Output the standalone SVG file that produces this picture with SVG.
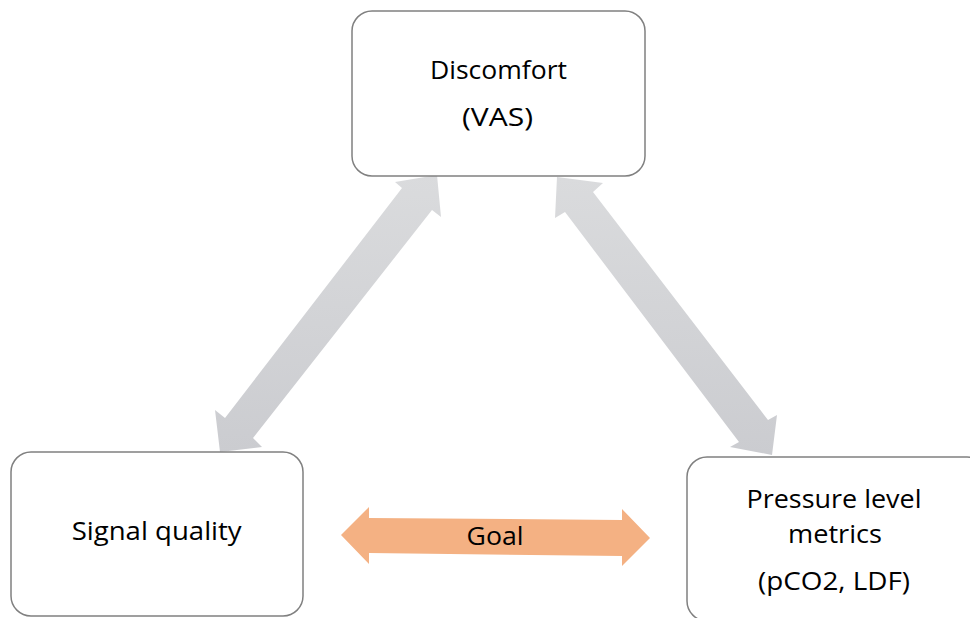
<svg xmlns="http://www.w3.org/2000/svg" width="970" height="618" viewBox="0 0 970 618">
<defs>
<style>
.box{fill:#ffffff;stroke:#808080;stroke-width:1.5}
.lbl{font-family:"Open Sans","Liberation Sans",sans-serif;font-size:26px;fill:#000000;text-anchor:middle}
.gray{fill:url(#g1)}
.goal{fill:#F4B183}
</style>
<linearGradient id="g1" x1="0" y1="0" x2="0" y2="1">
<stop offset="0" stop-color="#dadbdd"/>
<stop offset="1" stop-color="#cbccd0"/>
</linearGradient>
</defs>
<rect width="970" height="618" fill="#ffffff"/>
<g id="connectors">
<polygon class="gray" points="437,175 441,217 432,210 253,438 262,447 220,452 215,410 225,418 402,188 395,182"/>
<polygon class="gray" points="557,177 603,183 593,192 768,420 777,415 772,455 730,447 739,442 565,212 555,218"/>
<polygon class="goal" points="341,535 369,507 369,518 622,520 622,509 650,538 622,566 622,556 369,553 369,564"/>
<text class="lbl" x="495" y="545" textLength="57" lengthAdjust="spacingAndGlyphs">Goal</text>
</g>
<g id="node-discomfort">
<rect class="box" x="352" y="11" width="293" height="165" rx="20"/>
<text class="lbl" x="498.5" y="79" textLength="137" lengthAdjust="spacingAndGlyphs">Discomfort</text>
<text class="lbl" x="497.5" y="126" textLength="71" lengthAdjust="spacingAndGlyphs">(VAS)</text>
</g>
<g id="node-signal">
<rect class="box" x="11" y="452" width="292" height="164" rx="20"/>
<text class="lbl" x="156.7" y="540" textLength="170" lengthAdjust="spacingAndGlyphs">Signal quality</text>
</g>
<g id="node-pressure">
<rect class="box" x="687" y="457" width="300" height="164" rx="20"/>
<text class="lbl" x="834" y="508" textLength="175" lengthAdjust="spacingAndGlyphs">Pressure level</text>
<text class="lbl" x="835" y="543" textLength="94" lengthAdjust="spacingAndGlyphs">metrics</text>
<text class="lbl" x="834" y="590" textLength="152" lengthAdjust="spacingAndGlyphs">(pCO2, LDF)</text>
</g>
</svg>
